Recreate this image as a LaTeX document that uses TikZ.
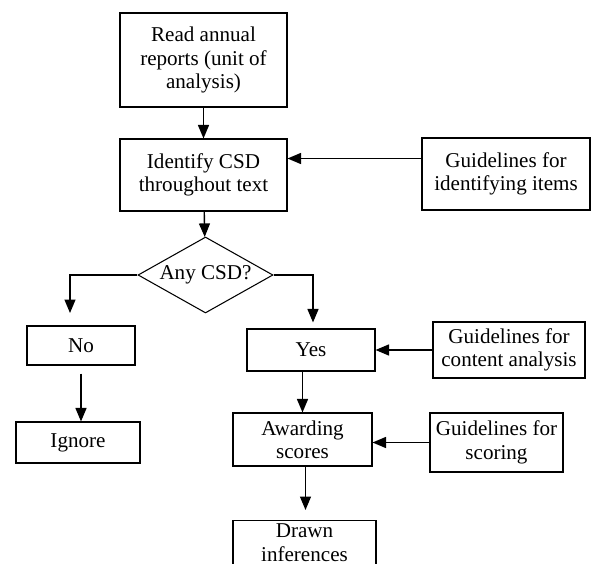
\documentclass[tikz,border=0pt]{standalone}
\usepackage{fontspec}
\setmainfont{Liberation Serif}
\usepackage{tikz}
\usetikzlibrary{shapes,shapes.geometric,arrows.meta,calc,positioning}
\usepackage{xcolor}

\begin{document}
\begin{tikzpicture}[
	  every node/.style={align=center,text=black,font=\fontsize{12}{13.3}\selectfont},
	  box/.style={draw,line width=0.6pt,rectangle,inner sep=1pt},
	  guide/.style={draw,line width=0.6pt,rectangle,inner sep=1pt},
	  decision/.style={draw,line width=0.6pt,diamond,aspect=1.78,inner sep=0pt,minimum width=2.7cm,minimum height=1.52cm},
	  flow/.style={-{Triangle[length=0.27cm,width=0.22cm]},line width=0.8pt}]

	  % fix the page size
	  \useasboundingbox (0,0) rectangle (11.82,-11.28);

	  % main column
	  \node[box,minimum width=3.34cm,minimum height=1.88cm] (read) at (4.07,-1.2) {Read annual\\reports (unit of\\analysis)};
	  \node[box,minimum width=3.34cm,minimum height=1.44cm] (identify) at (4.07,-3.5) {Identify CSD\\throughout text};
	  \node[guide,minimum width=3.36cm,minimum height=1.44cm] (guideid) at (10.12,-3.48) {Guidelines for\\identifying items};
	  \node[decision] (anycsd) at (4.11,-5.5) {Any CSD?};

	  % no branch
	  \node[box,minimum width=2.16cm,minimum height=0.78cm] (no) at (1.62,-6.91) {No};
	  \node[box,minimum width=2.48cm,minimum height=0.82cm] (ignore) at (1.56,-8.85) {Ignore};
	  \coordinate (noend) at (1.4,-6.26);

	  % yes branch
	  \node[box,minimum width=2.56cm,minimum height=0.84cm] (yes) at (6.22,-7.0) {Yes};
	  \node[guide,minimum width=3.04cm,minimum height=1.12cm] (guidecontent) at (10.18,-7.0) {Guidelines for\\content analysis};
	  \node[box,minimum width=2.78cm,minimum height=1.06cm] (awarding) at (6.05,-8.79) {Awarding\\scores};
	  \node[guide,minimum width=2.66cm,minimum height=1.18cm] (guidescore) at (9.93,-8.85) {Guidelines for\\scoring};
	  % last box runs off the bottom edge
	  \node[box,anchor=north,minimum width=2.86cm,inner ysep=2pt,text depth=0.5cm] (drawn) at (6.09,-10.4) {Drawn\\inferences};

	  \draw[flow] (read) -- (identify);
	  \draw[flow] ([yshift=0.31cm]guideid.west) -- ([yshift=0.31cm]guideid.west -| identify.east);
	  \draw[flow] (identify) -- (anycsd);

	  \draw[flow] (anycsd.west) -| (noend);
	  \draw[flow,shorten <=0.16cm] (no.south) -- (no.south |- ignore.north);

	  \draw[flow,shorten >=0.12cm] (anycsd.east) -| ([xshift=0.04cm]yes.north);
	  \draw[flow] (guidecontent.west) -- (guidecontent.west -| yes.east);
	  \draw[flow] (awarding.north |- yes.south) -- (awarding.north);
	  \draw[flow] (guidescore.west) -- (guidescore.west -| awarding.east);
	  \draw[flow,shorten >=0.2cm] ([xshift=0.06cm]awarding.south) -- ([xshift=0.06cm]awarding.south |- drawn.north);

\end{tikzpicture}
\end{document}
